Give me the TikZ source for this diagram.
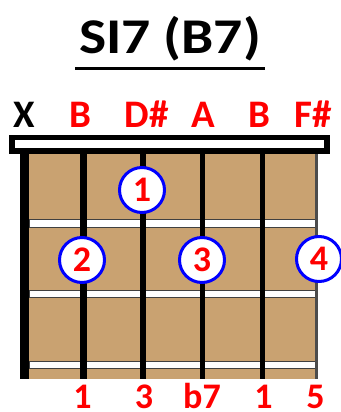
\documentclass[tikz,border=0pt]{standalone}
\usepackage{fontspec}
\setmainfont{Carlito}
\usepackage{graphicx}
\definecolor{wood}{RGB}{201,162,113}
\definecolor{redtxt}{RGB}{255,0,0}
\definecolor{bluering}{RGB}{0,0,255}
\begin{document}
\begin{tikzpicture}[x=1pt,y=-1pt,
  toplab/.style={font=\bfseries\fontsize{39}{40}\selectfont, anchor=base, inner sep=0pt, text=redtxt},
  botlab/.style={font=\bfseries\fontsize{36}{38}\selectfont, anchor=base, inner sep=0pt, text=redtxt},
  fing/.style={circle, draw=bluering, line width=3pt, fill=white, minimum size=45pt, inner sep=0pt,
    text=redtxt, font=\bfseries\fontsize{36}{36}\selectfont, text height=22.7pt, text depth=0pt},
  fretbar/.style={fill=white, draw=black!75, line width=1pt},
  stringline/.style={draw=black}
]
\useasboundingbox (0,0) rectangle (340,412);
% title
\node[anchor=base, inner sep=0pt, font=\bfseries\fontsize{50}{60}\selectfont] (title) at (170,53) {\scalebox{1.15}[1]{SI7 (B7)}};
\draw[line width=3.3pt] (75,68.3) -- (265,68.3);
% string names
\node[toplab, text=black] (nX) at (24.5,127) {X};
\node[toplab] (n2) at (80,127) {B};
\node[toplab] (n3) at (146.5,127) {D\#};
\node[toplab] (n4) at (203.5,127) {A};
\node[toplab] (n5) at (259,127) {B};
\node[toplab] (n6) at (313.5,127) {F\#};
% nut
\fill[black] (9,135) rectangle (330,154);
\fill[white] (15,140) rectangle (324,148);
% board
\fill[wood] (24,154) rectangle (317,379);
% frets
\draw[fretbar] (29,219.5) rectangle (317,227.5);
\draw[fretbar] (29,290.5) rectangle (317,297.5);
\draw[fretbar] (29,361) rectangle (317,368);
% strings
\draw[stringline, line width=9pt] (24.5,154) -- (24.5,379);
\draw[stringline, line width=7pt] (83.5,154) -- (83.5,379);
\draw[stringline, line width=6pt] (143,154) -- (143,379);
\draw[stringline, line width=5pt] (202.5,154) -- (202.5,379);
\draw[stringline, line width=5pt] (262.5,154) -- (262.5,379);
\draw[draw=black!70, line width=2.5pt] (316.5,154) -- (316.5,379);
% fingers
\node[fing] (f1) at (142,190) {1};
\node[fing] (f2) at (82,260) {2};
\node[fing] (f3) at (202,260) {3};
\node[fing] (f4) at (319,259) {4};
% intervals
\node[botlab] (i2) at (82.5,408) {1};
\node[botlab] (i3) at (144,408) {3};
\node[botlab] (i4) at (202,408) {b7};
\node[botlab] (i5) at (263.5,408) {1};
\node[botlab] (i6) at (315.5,408) {5};
\end{tikzpicture}
\end{document}
